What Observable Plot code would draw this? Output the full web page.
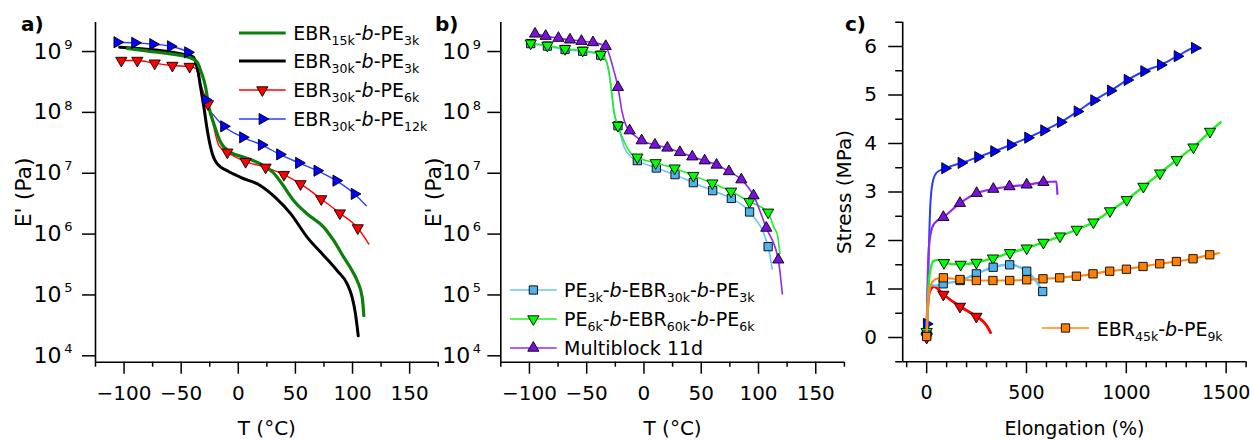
<!DOCTYPE html>
<html>
<head>
<meta charset="utf-8">
<script src="https://cdn.jsdelivr.net/npm/d3@7"></script>
<script src="https://cdn.jsdelivr.net/npm/@observablehq/plot@0.6"></script>
<style>
  html, body { margin: 0; padding: 0; background: white; }
  #wrap { position: relative; width: 1250px; height: 441px; background: white; overflow: hidden; font-family: "DejaVu Sans", sans-serif; }
  #wrap svg.plotsvg { position: absolute; left: 0; top: 0; }
  .lg { position: absolute; white-space: nowrap; font-size: 19px; line-height: 20px; color: black; }
  .lg sub { font-size: 0.66em; line-height: 0; vertical-align: -0.38em; }
  .pl { position: absolute; font-size: 20px; font-weight: bold; line-height: 24px; }
</style>
</head>
<body>
<div id="wrap"></div>
<script>
// ---------------- Panel a: E' (Pa) vs T (°C) ----------------
const aXTicks = [-100, -50, 0, 50, 100, 150];
const aXMinor = [-125, -75, -25, 25, 75, 125, 175];
const yLogTicks = [1e4, 1e5, 1e6, 1e7, 1e8, 1e9];

// EBR15k-b-PE3k (line only)
const a15k3k_T = [-97.1, -70.9, -41.7, -35.9, -33, -28.6, -25.7, -21.3, -15.5, -6.7, 4.9, 19.5, 31.1, 38.5, 48.6, 60.4, 74.9, 83.6, 92.4, 99.7, 104.1, 108.5, 109.9];
const a15k3k_E = [1.13e9, 9.73e8, 7.87e8, 6.67e8, 4.88e8, 2.59e8, 1.21e8, 6.47e7, 3.22e7, 2.21e7, 1.83e7, 1.42e7, 1.0e7, 6.6e6, 3.54e6, 2.14e6, 1.29e6, 7.78e5, 4.14e5, 2.5e5, 1.71e5, 9.1e4, 4.55e4];
// EBR30k-b-PE3k (line only)
const a30k3k_T = [-103.8, -40.2, -35.9, -33, -30.1, -27.1, -22.7, -18.4, -9.6, 2, 19.5, 32.6, 45.8, 60.4, 74.9, 86.6, 95.4, 99.7, 102.6, 105];
const a30k3k_E = [1.18e9, 8.28e8, 5.52e8, 2.59e8, 1.21e8, 5.02e7, 2.07e7, 1.42e7, 1.1e7, 8.57e6, 6.25e6, 3.98e6, 2.17e6, 8.83e5, 4.42e5, 2.5e5, 1.51e5, 9.1e4, 4.85e4, 2.13e4];
// EBR30k-b-PE6k (markers + extra line points)
const a30k6k_mT = [-102.4, -88.4, -73.2, -57.7, -42.6, -26.6, -9.6, 6.4, 23.9, 39.9, 54.5, 72.6, 88.9, 104.6];
const a30k6k_mE = [7.11e8, 7.11e8, 6.43e8, 5.89e8, 5.66e8, 1.38e8, 2.21e7, 1.55e7, 1.25e7, 9.48e6, 6.67e6, 3.78e6, 2.21e6, 1.26e6];
const a30k6k_lT = [-37, -33, -22, -17, 114.3];
const a30k6k_lE = [5.25e8, 2.8e8, 6.3e7, 2.85e7, 6.87e5];
// EBR30k-b-PE12k
const a30k12k_mT = [-106, -90.5, -74.7, -59.2, -44.1, -28.6, -12.6, 4.0, 20.4, 36.4, 53.0, 69.1, 85.7, 101.7];
const a30k12k_mE = [1.42e9, 1.39e9, 1.32e9, 1.22e9, 9.7e8, 1.61e8, 5.9e7, 3.89e7, 2.92e7, 2.04e7, 1.48e7, 1.10e7, 7.55e6, 4.57e6];
const a30k12k_lT = [-40.2, -34.5, -25.7, -21.3, 112];
const a30k12k_lE = [8.59e8, 3.78e8, 1.14e8, 8.85e7, 2.93e6];

// ---------------- Panel b ----------------
// PE3k-b-EBR30k-b-PE3k
const bPE3k_mT = [-98.9, -84.3, -68.9, -53.5, -37.8, -22.7, -5.8, 10.8, 27.1, 43.1, 60, 76.3, 92.2, 108.4];
const bPE3k_mE = [1.35e9, 1.23e9, 1.08e9, 1.01e9, 8.71e8, 6.03e7, 1.61e7, 1.22e7, 9.49e6, 7.0e6, 5.18e6, 3.86e6, 2.31e6, 6.21e5];
const bPE3k_lT = [-33, -30, -28, -26, -17, -12, 112];
const bPE3k_lE = [6.9e8, 3.8e8, 1.9e8, 9.5e7, 2.6e7, 1.9e7, 2.67e5];
// PE6k-b-EBR60k-b-PE6k
const bPE6k_mT = [-98.9, -84.3, -68.9, -53.5, -37.8, -22.7, -5.8, 10.2, 26.8, 43.1, 59.7, 76.1, 92.1, 108.4];
const bPE6k_mE = [1.37e9, 1.26e9, 1.11e9, 1.04e9, 8.93e8, 6.07e7, 1.83e7, 1.48e7, 1.21e7, 9.14e6, 6.87e6, 5.04e6, 3.41e6, 2.28e6];
const bPE6k_lT = [-33, -30, -28, -26, -17, -12, 113.4, 116.4, 118.7];
const bPE6k_lE = [7.1e8, 4.0e8, 2.0e8, 1.0e8, 3.2e7, 2.2e7, 1.29e6, 1.0e6, 4.7e5];
// Multiblock 11d
const bMB_mT = [-95.1, -85.8, -74.7, -64.6, -54.6, -44.5, -33.4, -22.7, -12.5, -2, 9.6, 20.4, 31.4, 42.2, 53, 63.4, 74.2, 85, 95.7, 106.8, 117.3];
const bMB_mE = [1.95e9, 1.79e9, 1.66e9, 1.56e9, 1.48e9, 1.41e9, 1.22e9, 2.59e8, 5.02e7, 3.44e7, 2.92e7, 2.61e7, 2.21e7, 1.87e7, 1.61e7, 1.37e7, 1.07e7, 7.85e6, 4.29e6, 1.26e6, 3.79e5];
const bMB_lT = [-30, -26.5, -19, -16, 120.8];
const bMB_lE = [8.5e8, 5.0e8, 1.0e8, 6.3e7, 1.04e5];

// ---------------- Panel c: Stress (MPa) vs Elongation (%) ----------------
const cXTicks = [0, 500, 1000, 1500];
const cXMinor = [-100, 100, 200, 300, 400, 600, 700, 800, 900, 1100, 1200, 1300, 1400, 1600];
const cYTicks = [0, 1, 2, 3, 4, 5, 6];
const cYMinor = [-0.5, 0.5, 1.5, 2.5, 3.5, 4.5, 5.5, 6.5];
// EBR30k-b-PE12k
const c12k_mX = [0, 91.7, 173.8, 257, 337.2, 420.8, 507.5, 587.7, 671.3, 755, 838.2, 921.8, 1005.5, 1088.7, 1172.3, 1256, 1342.7];
const c12k_mY = [0.28, 3.49, 3.6, 3.72, 3.84, 3.97, 4.12, 4.27, 4.44, 4.66, 4.89, 5.09, 5.31, 5.49, 5.62, 5.8, 5.97];
const c12k_lX = [6, 11, 18, 30, 50, 1372];
const c12k_lY = [1.0, 1.8, 2.7, 3.2, 3.4, 5.96];
// Multiblock 11d
const cMB_mX = [0, 83.7, 166.8, 250.5, 334, 414.8, 501, 584.7];
const cMB_mY = [0.15, 2.48, 2.77, 2.975, 3.06, 3.113, 3.148, 3.202];
const cMB_lX = [4, 9, 20, 40, 649.8, 654.8];
const cMB_lY = [1.0, 1.7, 2.15, 2.36, 3.216, 2.96];
// PE6k-b-EBR60k-b-PE6k
const cPE6k_mX = [0, 86.7, 170.3, 249, 332.2, 417.3, 501, 584.7, 667.8, 751.5, 835.2, 918.3, 1002, 1085.7, 1168.8, 1252.5, 1336.2, 1419.3];
const cPE6k_mY = [0.12, 1.54, 1.505, 1.546, 1.635, 1.746, 1.841, 1.959, 2.089, 2.227, 2.377, 2.608, 2.839, 3.113, 3.388, 3.664, 3.924, 4.247];
const cPE6k_lX = [5, 12, 20, 35, 60, 1473];
const cPE6k_lY = [0.7, 1.2, 1.42, 1.58, 1.6, 4.44];
// PE3k-b-EBR30k-b-PE3k
const cPE3k_mX = [0, 82.7, 167.8, 249, 333, 415.8, 501, 581.2];
const cPE3k_mY = [0.05, 1.107, 1.175, 1.313, 1.449, 1.499, 1.367, 0.948];
const cPE3k_lX = [5, 12, 25, 45, 545];
const cPE3k_lY = [0.6, 0.95, 1.08, 1.07, 1.18];
// EBR45k-b-PE9k
const c45k_mX = [0, 83.7, 166.8, 249, 332, 415.8, 501, 582.7, 666.3, 750, 833.2, 916.8, 1000.5, 1083.7, 1167.3, 1251, 1334.2, 1417.8];
const c45k_mY = [0.02, 1.231, 1.196, 1.175, 1.175, 1.175, 1.19, 1.21, 1.231, 1.264, 1.313, 1.367, 1.408, 1.464, 1.52, 1.567, 1.623, 1.705];
const c45k_lX = [5, 12, 28, 50, 1464];
const c45k_lY = [0.6, 0.97, 1.14, 1.21, 1.738];
// EBR30k-b-PE6k
const c6k_mX = [0, 83.7, 166.8, 249];
const c6k_mY = [0.0, 0.887, 0.639, 0.433];
const c6k_lX = [5, 15, 36.6, 290, 310, 320];
const c6k_lY = [0.6, 0.95, 1.05, 0.3, 0.18, 0.1];

// ---------------- helpers ----------------
const FONT = "DejaVu Sans, sans-serif";
const pts = (xs, ys) => xs.map((x, i) => ({x, y: ys[i]}));
const merged = (a, b) => [...a, ...b].sort((p, q) => p.x - q.x);

const triDown = {draw(c, size) { const r = Math.sqrt(size / Math.PI), h = r * Math.sqrt(3);
  c.moveTo(-r, -h / 3); c.lineTo(r, -h / 3); c.lineTo(0, 2 * h / 3); c.closePath(); }};
const triUp = {draw(c, size) { const r = Math.sqrt(size / Math.PI), h = r * Math.sqrt(3);
  c.moveTo(-r, h / 3); c.lineTo(r, h / 3); c.lineTo(0, -2 * h / 3); c.closePath(); }};
const triRight = {draw(c, size) { const r = Math.sqrt(size / Math.PI), h = r * Math.sqrt(3);
  c.moveTo(-h / 3, -r); c.lineTo(-h / 3, r); c.lineTo(2 * h / 3, 0); c.closePath(); }};
const square = {draw(c, size) { const r = Math.sqrt(size / Math.PI), s = r * 0.74;
  c.rect(-s, -s, 2 * s, 2 * s); }};

const COL = {
  green: "#0b800b", black: "#000000", red: "#ff0000", blue: "#0000ff", blueLine: "#2a3cff",
  lblue: "#4fb3ec", lblueLine: "#6cc4f6", lime: "#00ff00", limeLine: "#22ee22",
  purple: "#7a10dc", purpleLine: "#8f2cf0", orange: "#ff8000", orangeLine: "#ff8a10"
};

function series(line, marks, o) {
  const out = [Plot.line(line, {x: "x", y: "y", stroke: o.stroke, strokeWidth: o.sw, curve: "monotone-x"})];
  if (marks) out.push(Plot.dot(marks, {x: "x", y: "y", symbol: o.symbol, r: o.r ?? 5.6, fill: o.fill, stroke: "black", strokeWidth: 0.9}));
  return out;
}

function logAxes(xd, yd, yLabel, yLabelOffset, tenPad, supPad) {
  return [
    Plot.ruleX([xd[0]], {stroke: "black", strokeWidth: 1.6}),
    Plot.ruleY([yd[0]], {stroke: "black", strokeWidth: 1.6}),
    Plot.axisX({ticks: aXTicks, tickSize: 12, tickPadding: 12, strokeWidth: 1.5, fontSize: 20, fontFamily: FONT,
      label: "T (°C)", labelAnchor: "center", labelOffset: 73, labelArrow: "none"}),
    Plot.axisX({ticks: aXMinor, tickSize: 5, strokeWidth: 1.5, tickFormat: () => "", label: null}),
    Plot.axisY({ticks: yLogTicks, tickSize: 13, tickPadding: tenPad, strokeWidth: 1.5, fontSize: 22, fontFamily: FONT,
      tickFormat: () => "10", label: yLabel, labelAnchor: "center", labelOffset: yLabelOffset, labelArrow: "none"}),
    Plot.axisY({ticks: yLogTicks, tickSize: 0, tickPadding: 13 + supPad, fontSize: 13, fontFamily: FONT, dy: -7,
      tickFormat: d => String(Math.round(Math.log10(d))), label: null})
  ];
}

const base = {width: 1250, height: 441,
  style: {background: "transparent", fontFamily: FONT, fontSize: "20px", color: "black", overflow: "visible"}};

const yLog = [Math.pow(10, 3.895), Math.pow(10, 9.477)];

// ---------------- Panel a ----------------
const plotA = Plot.plot({
  ...base,
  marginLeft: 95, marginRight: 1250 - 437.7, marginTop: 22, marginBottom: 441 - 361.7,
  x: {domain: [-125, 175]},
  y: {type: "log", domain: yLog},
  marks: [
    ...logAxes([-125, 175], yLog, "E' (Pa)", 80, 21, 10),
    ...series(merged(pts(a30k12k_mT, a30k12k_mE), pts(a30k12k_lT, a30k12k_lE)), null, {stroke: COL.blueLine, sw: 1.4}),
    ...series(merged(pts(a30k6k_mT, a30k6k_mE), pts(a30k6k_lT, a30k6k_lE)), null, {stroke: COL.red, sw: 1.4}),
    ...series(pts(a30k3k_T, a30k3k_E), null, {stroke: COL.black, sw: 3}),
    ...series(pts(a15k3k_T, a15k3k_E), null, {stroke: COL.green, sw: 3.2}),
    Plot.dot(pts(a30k6k_mT, a30k6k_mE), {x: "x", y: "y", symbol: triDown, r: 5.6, fill: COL.red, stroke: "black", strokeWidth: 0.9}),
    Plot.dot(pts(a30k12k_mT, a30k12k_mE), {x: "x", y: "y", symbol: triRight, r: 5.6, fill: COL.blue, stroke: "black", strokeWidth: 0.9})
  ]
});

// ---------------- Panel b ----------------
const plotB = Plot.plot({
  ...base,
  marginLeft: 500.3, marginRight: 1250 - 843.9, marginTop: 22, marginBottom: 441 - 361.7,
  x: {domain: [-125, 175]},
  y: {type: "log", domain: yLog},
  marks: [
    ...logAxes([-125, 175], yLog, "E' (Pa)", 75.5, 17.5, 6.8),
    ...series(merged(pts(bPE3k_mT, bPE3k_mE), pts(bPE3k_lT, bPE3k_lE)), pts(bPE3k_mT, bPE3k_mE), {stroke: COL.lblueLine, sw: 1.6, symbol: square, fill: COL.lblue}),
    ...series(merged(pts(bPE6k_mT, bPE6k_mE), pts(bPE6k_lT, bPE6k_lE)), pts(bPE6k_mT, bPE6k_mE), {stroke: COL.limeLine, sw: 1.6, symbol: triDown, fill: COL.lime}),
    ...series(merged(pts(bMB_mT, bMB_mE), pts(bMB_lT, bMB_lE)), pts(bMB_mT, bMB_mE), {stroke: COL.purpleLine, sw: 1.6, symbol: triUp, fill: COL.purple})
  ]
});

// ---------------- Panel c ----------------
const cXd = [-120, 1600], cYd = [-0.5, 6.5];
const plotC = Plot.plot({
  ...base,
  marginLeft: 902.2, marginRight: 1250 - 1245.6, marginTop: 21.75, marginBottom: 441 - 361.25,
  x: {domain: cXd},
  y: {domain: cYd},
  marks: [
    Plot.ruleX([cXd[0]], {stroke: "black", strokeWidth: 1.6}),
    Plot.ruleY([cYd[0]], {stroke: "black", strokeWidth: 1.6}),
    Plot.axisX({ticks: cXTicks, tickSize: 12, tickPadding: 12, strokeWidth: 1.5, fontSize: 19, fontFamily: FONT,
      tickFormat: d => String(d), label: "Elongation (%)", labelAnchor: "center", labelOffset: 73.5, labelArrow: "none"}),
    Plot.axisX({ticks: cXMinor, tickSize: 6, strokeWidth: 1.5, tickFormat: () => "", label: null}),
    Plot.axisY({ticks: cYTicks, tickSize: 14, tickPadding: 11.6, strokeWidth: 1.5, fontSize: 20, fontFamily: FONT,
      tickFormat: d => String(d), label: "Stress (MPa)", labelAnchor: "center", labelOffset: 65.7, labelArrow: "none"}),
    Plot.axisY({ticks: cYMinor, tickSize: 7, strokeWidth: 1.5, tickFormat: () => "", label: null}),
    ...series(merged(pts(c6k_mX, c6k_mY), pts(c6k_lX, c6k_lY)), pts(c6k_mX, c6k_mY), {stroke: COL.red, sw: 2.8, symbol: triDown, fill: COL.red}),
    ...series(merged(pts(c12k_mX, c12k_mY), pts(c12k_lX, c12k_lY)), pts(c12k_mX, c12k_mY), {stroke: COL.blueLine, sw: 2, symbol: triRight, fill: COL.blue}),
    ...series(merged(pts(cMB_mX, cMB_mY), pts(cMB_lX, cMB_lY)), pts(cMB_mX, cMB_mY), {stroke: COL.purpleLine, sw: 2.2, symbol: triUp, fill: COL.purple}),
    ...series(merged(pts(cPE6k_mX, cPE6k_mY), pts(cPE6k_lX, cPE6k_lY)), pts(cPE6k_mX, cPE6k_mY), {stroke: COL.limeLine, sw: 2.4, symbol: triDown, fill: COL.lime}),
    ...series(merged(pts(cPE3k_mX, cPE3k_mY), pts(cPE3k_lX, cPE3k_lY)), pts(cPE3k_mX, cPE3k_mY), {stroke: COL.lblueLine, sw: 2.4, symbol: square, fill: COL.lblue}),
    ...series(merged(pts(c45k_mX, c45k_mY), pts(c45k_lX, c45k_lY)), pts(c45k_mX, c45k_mY), {stroke: COL.orangeLine, sw: 2.2, symbol: square, fill: COL.orange})
  ]
});

const wrap = document.getElementById("wrap");
for (const p of [plotA, plotB, plotC]) { p.classList.add("plotsvg"); wrap.appendChild(p); }

// ---------------- legends and panel labels (HTML text) ----------------
function legend(rows, x0, x1, textX) {
  for (const r of rows) {
    const svg = d3.select(wrap).append("svg")
      .style("position", "absolute").style("left", (x0 - 2) + "px").style("top", (r.y - 9) + "px")
      .attr("width", x1 - x0 + 4).attr("height", 18);
    svg.append("line").attr("x1", 2).attr("x2", x1 - x0 + 2).attr("y1", 9).attr("y2", 9)
      .attr("stroke", r.stroke).attr("stroke-width", r.sw);
    if (r.symbol) svg.append("path").attr("transform", `translate(${(x1 - x0) / 2 + 2},9)`)
      .attr("d", d3.symbol(r.symbol, Math.PI * 5.6 * 5.6)()).attr("fill", r.fill).attr("stroke", "black").attr("stroke-width", 0.9);
    d3.select(wrap).append("div").attr("class", "lg")
      .style("left", textX + "px").style("top", (r.y - 9.6) + "px").html(r.html);
  }
}
legend([
  {y: 32.7, html: "EBR<sub>15k</sub>-<i>b</i>-PE<sub>3k</sub>", stroke: COL.green, sw: 3.2},
  {y: 60.7, html: "EBR<sub>30k</sub>-<i>b</i>-PE<sub>3k</sub>", stroke: COL.black, sw: 3},
  {y: 90, html: "EBR<sub>30k</sub>-<i>b</i>-PE<sub>6k</sub>", stroke: COL.red, sw: 1.4, symbol: triDown, fill: COL.red},
  {y: 119, html: "EBR<sub>30k</sub>-<i>b</i>-PE<sub>12k</sub>", stroke: COL.blueLine, sw: 1.4, symbol: triRight, fill: COL.blue}
], 239.3, 286, 293.3);
legend([
  {y: 290, html: "PE<sub>3k</sub>-<i>b</i>-EBR<sub>30k</sub>-<i>b</i>-PE<sub>3k</sub>", stroke: COL.lblueLine, sw: 1.6, symbol: square, fill: COL.lblue},
  {y: 319, html: "PE<sub>6k</sub>-<i>b</i>-EBR<sub>60k</sub>-<i>b</i>-PE<sub>6k</sub>", stroke: COL.limeLine, sw: 1.6, symbol: triDown, fill: COL.lime},
  {y: 347.7, html: "Multiblock 11d", stroke: COL.purpleLine, sw: 1.6, symbol: triUp, fill: COL.purple}
], 510, 556.7, 564);
legend([
  {y: 328.3, html: "EBR<sub>45k</sub>-<i>b</i>-PE<sub>9k</sub>", stroke: COL.orangeLine, sw: 1.6, symbol: square, fill: COL.orange}
], 1042.3, 1089.3, 1096.7);

for (const [t, x] of [["a)", 21], ["b)", 435], ["c)", 845]]) {
  d3.select(wrap).append("div").attr("class", "pl").style("left", x + "px").style("top", "12px").text(t);
}
</script>
</body>
</html>
